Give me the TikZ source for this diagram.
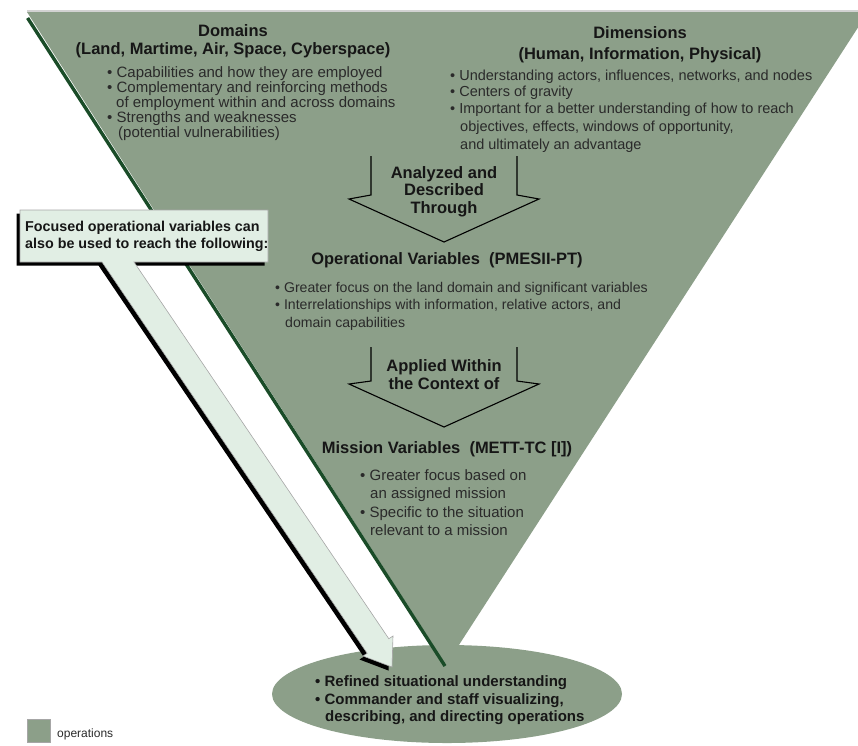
\documentclass[tikz,border=0pt]{standalone}
\usepackage{fontspec}
\setmainfont{Liberation Sans}
\usetikzlibrary{shapes.geometric}
\definecolor{opsfill}{RGB}{140,159,137}
\definecolor{edgegreen}{RGB}{26,76,40}
\definecolor{calloutfill}{RGB}{225,238,228}
\definecolor{txtgray}{RGB}{42,42,42}
\definecolor{hdblack}{RGB}{22,22,22}
\begin{document}
\begin{tikzpicture}[x=1pt,y=-1pt,
  body/.style={anchor=base west, inner sep=0pt, text=txtgray, font=\fontsize{15}{18}\selectfont},
  bodydim/.style={body, font=\fontsize{14.5}{18}\selectfont},
  bodyop/.style={body, font=\fontsize{14.1}{18}\selectfont},
  head/.style={anchor=base, inner sep=0pt, text=hdblack, font=\bfseries\fontsize{16.5}{18}\selectfont},
  bold/.style={anchor=base west, inner sep=0pt, text=hdblack, font=\bfseries\fontsize{15}{18}\selectfont},
  calltext/.style={anchor=base west, inner sep=0pt, text=hdblack, font=\bfseries\fontsize{14.3}{17}\selectfont},
  flowarrow/.style={draw=black, line width=1.1pt, line join=miter}
]
\useasboundingbox (0,0) rectangle (858,745);

% outcome ellipse at the bottom
\node[ellipse, fill=opsfill, minimum width=350, minimum height=98, inner sep=0pt] (outcome) at (447,694) {};

% inverted triangle of operations
\draw[gray!35, line width=1.5pt] (27,11) -- (868,11);
\fill[opsfill] (27,12) -- (868,12) -- (446,665) -- cycle;
\draw[edgegreen, line width=3.4pt] (27.6,18) -- (445,666);

% top block: domains
\node[head] (domT) at (233,36) {Domains};
\node[head] (domS) at (233,54) {(Land, Martime, Air, Space, Cyberspace)};
\node[body] (dom1) at (107,77) {• Capabilities and how they are employed};
\node[body] (dom2) at (107,92) {• Complementary and reinforcing methods};
\node[body] (dom3) at (116,107) {of employment within and across domains};
\node[body] (dom4) at (107,122) {• Strengths and weaknesses};
\node[body] (dom5) at (118,137) {(potential vulnerabilities)};

% top block: dimensions
\node[head] (dimT) at (640,38) {Dimensions};
\node[head] (dimS) at (640,59) {(Human, Information, Physical)};
\node[bodydim] (dim1) at (450,80) {• Understanding actors, influences, networks, and nodes};
\node[bodydim] (dim2) at (450,96) {• Centers of gravity};
\node[bodydim] (dim3) at (450,113) {• Important for a better understanding of how to reach};
\node[bodydim] (dim4) at (460,131) {objectives, effects, windows of opportunity,};
\node[bodydim] (dim5) at (460,149) {and ultimately an advantage};

% first flow arrow
\draw[flowarrow] (371,156) -- (371,195) -- (349,199) -- (444,242) -- (539,199) -- (517,195) -- (517,156);
\node[head] (ar1a) at (444,178) {Analyzed and};
\node[head] (ar1b) at (444,195) {Described};
\node[head] (ar1c) at (444,213) {Through};

% operational variables
\node[head] (opT) at (447,264) {Operational Variables\ \ (PMESII-PT)};
\node[bodyop] (op1) at (275,292) {• Greater focus on the land domain and significant variables};
\node[bodyop] (op2) at (275,309) {• Interrelationships with information, relative actors, and};
\node[bodyop] (op3) at (285,327) {domain capabilities};

% second flow arrow
\draw[flowarrow] (371,347) -- (371,381) -- (349,384) -- (444,427) -- (539,384) -- (517,381) -- (517,347);
\node[head] (ar2a) at (444,371) {Applied Within};
\node[head] (ar2b) at (444,389) {the Context of};

% mission variables
\node[head] (misT) at (447,453) {Mission Variables\ \ (METT-TC [I])};
\node[body] (mis1) at (360,480) {• Greater focus based on};
\node[body] (mis2) at (370,498) {an assigned mission};
\node[body] (mis3) at (360,517) {• Specific to the situation};
\node[body] (mis4) at (370,535) {relevant to a mission};

% outcome text
\node[bold] (out1) at (315,686) {• Refined situational understanding};
\node[bold] (out2) at (315,704) {• Commander and staff visualizing,};
\node[bold] (out3) at (325,721) {describing, and directing operations};

% callout with pointer
\fill[black] ([shift={(-3.5,3.5)}]20,210) -- ([shift={(-3.5,3.5)}]268,210) -- ([shift={(-3.5,3.5)}]268,262)
  -- ([shift={(-3.5,3.5)}]134,262) -- ([shift={(-3.5,3.5)}]388.8,638.7) -- ([shift={(-3.5,3.5)}]393,636)
  -- ([shift={(-3.5,3.5)}]392,667) -- ([shift={(-3.5,3.5)}]363,656) -- ([shift={(-3.5,3.5)}]367.2,653.3)
  -- ([shift={(-3.5,3.5)}]102,262) -- ([shift={(-3.5,3.5)}]20,262) -- cycle;
\filldraw[fill=calloutfill, draw=gray!70, line width=0.6pt] (20,210) -- (268,210) -- (268,262)
  -- (134,262) -- (388.8,638.7) -- (393,636) -- (392,667) -- (363,656) -- (367.2,653.3)
  -- (102,262) -- (20,262) -- cycle;
\node[calltext] (call1) at (25,231) {Focused operational variables can};
\node[calltext] (call2) at (25,248) {also be used to reach the following:};

% legend
\node[draw=gray!70, fill=opsfill, minimum size=23, inner sep=0pt] (legbox) at (39,731) {};
\node[anchor=base west, inner sep=0pt, text=txtgray, font=\fontsize{12}{14}\selectfont] (legtext) at (57,737) {operations};
\end{tikzpicture}
\end{document}
